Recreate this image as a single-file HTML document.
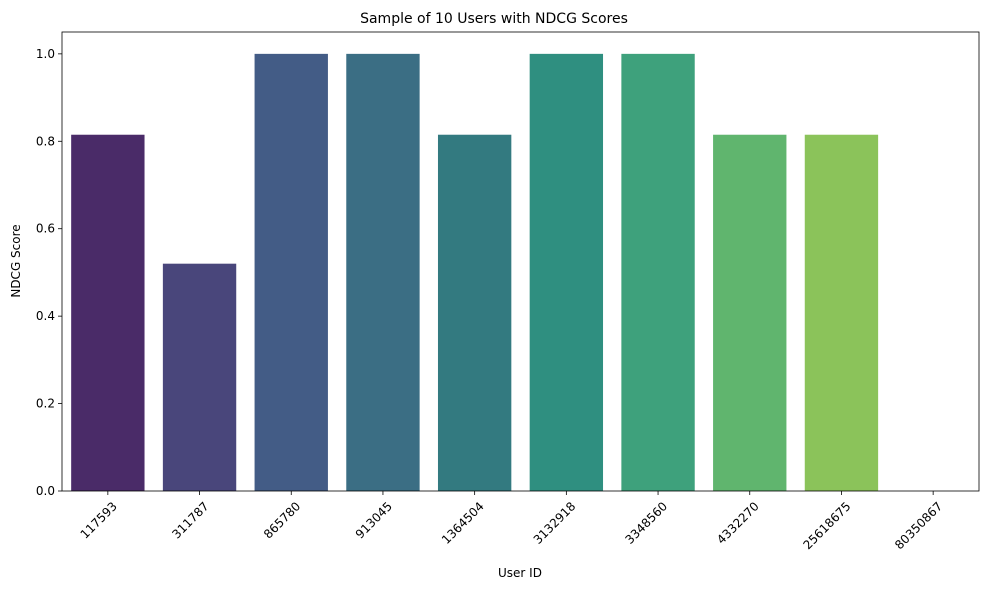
<!DOCTYPE html>
<html><head><meta charset="utf-8"><style>
body{margin:0;background:#fff;font-family:"Liberation Sans","DejaVu Sans",sans-serif;}
svg text{font-family:"DejaVu Sans","Liberation Sans",sans-serif;}
</style></head><body>
<svg id="chart" width="989" height="590" viewBox="0 0 989 590" xmlns="http://www.w3.org/2000/svg">
<rect width="989" height="590" fill="#fff"/>
<text x="494" y="23" text-anchor="middle" font-size="14" fill="#000">Sample of 10 Users with NDCG Scores</text>
<g id="plot"></g>
<text x="520" y="577" text-anchor="middle" font-size="12" fill="#000">User ID</text>
<text transform="translate(20,261) rotate(-90)" text-anchor="middle" font-size="12" fill="#000">NDCG Score</text>
</svg>
<script>
const categories=["117593","311787","865780","913045","1364504","3132918","3348560","4332270","25618675","80350867"];
const scores=[0.815,0.52,1.0,1.0,0.815,1.0,1.0,0.815,0.815,0.0];
const colors=["#4a2b68","#49467b","#435c86","#3b6e84","#337a80","#2f8f80","#3ea17c","#60b56e","#8bc35a","#b5d24a"];
const yTicks=[0,0.2,0.4,0.6,0.8,1.0];
const yTickLabels=["0.0","0.2","0.4","0.6","0.8","1.0"];
const L=62,R=979,T=32,B=491,yMax=1.05;
const ns="http://www.w3.org/2000/svg";
const g=document.getElementById('plot');
const step=(R-L)/categories.length;
const xC=i=>L+step*(i+0.5);
const y=v=>B-(v/yMax)*(B-T);
function mk(t,a){const e=document.createElementNS(ns,t);for(const k in a)e.setAttribute(k,a[k]);g.appendChild(e);return e;}
categories.forEach((c,i)=>{
  const bw=step*0.8;
  const r=mk('rect',{x:xC(i)-bw/2,y:y(scores[i]),width:bw,height:B-y(scores[i]),fill:colors[i]});
  
  
  const tk=mk('line',{x1:xC(i),x2:xC(i),y1:B,y2:B+4,stroke:'#000','stroke-width':0.8});
  
  
  const t=mk('text',{transform:`translate(${xC(i)+4},${B+10}) rotate(-45)`,'text-anchor':'end','font-size':12,fill:'#000',dy:'0.7em'});
  t.textContent=c;
  
  
});
yTicks.forEach((v,i)=>{
  const tk=mk('line',{x1:L-4,x2:L,y1:y(v),y2:y(v),stroke:'#000','stroke-width':0.8});
  
  
  const t=mk('text',{x:L-7,y:y(v)+4,'text-anchor':'end','font-size':12,fill:'#000'});
  t.textContent=yTickLabels[i];
  
  
});
const f=mk('rect',{x:L,y:T,width:R-L,height:B-T,fill:'none',stroke:'#000','stroke-width':0.8});


</script>
</body></html>
